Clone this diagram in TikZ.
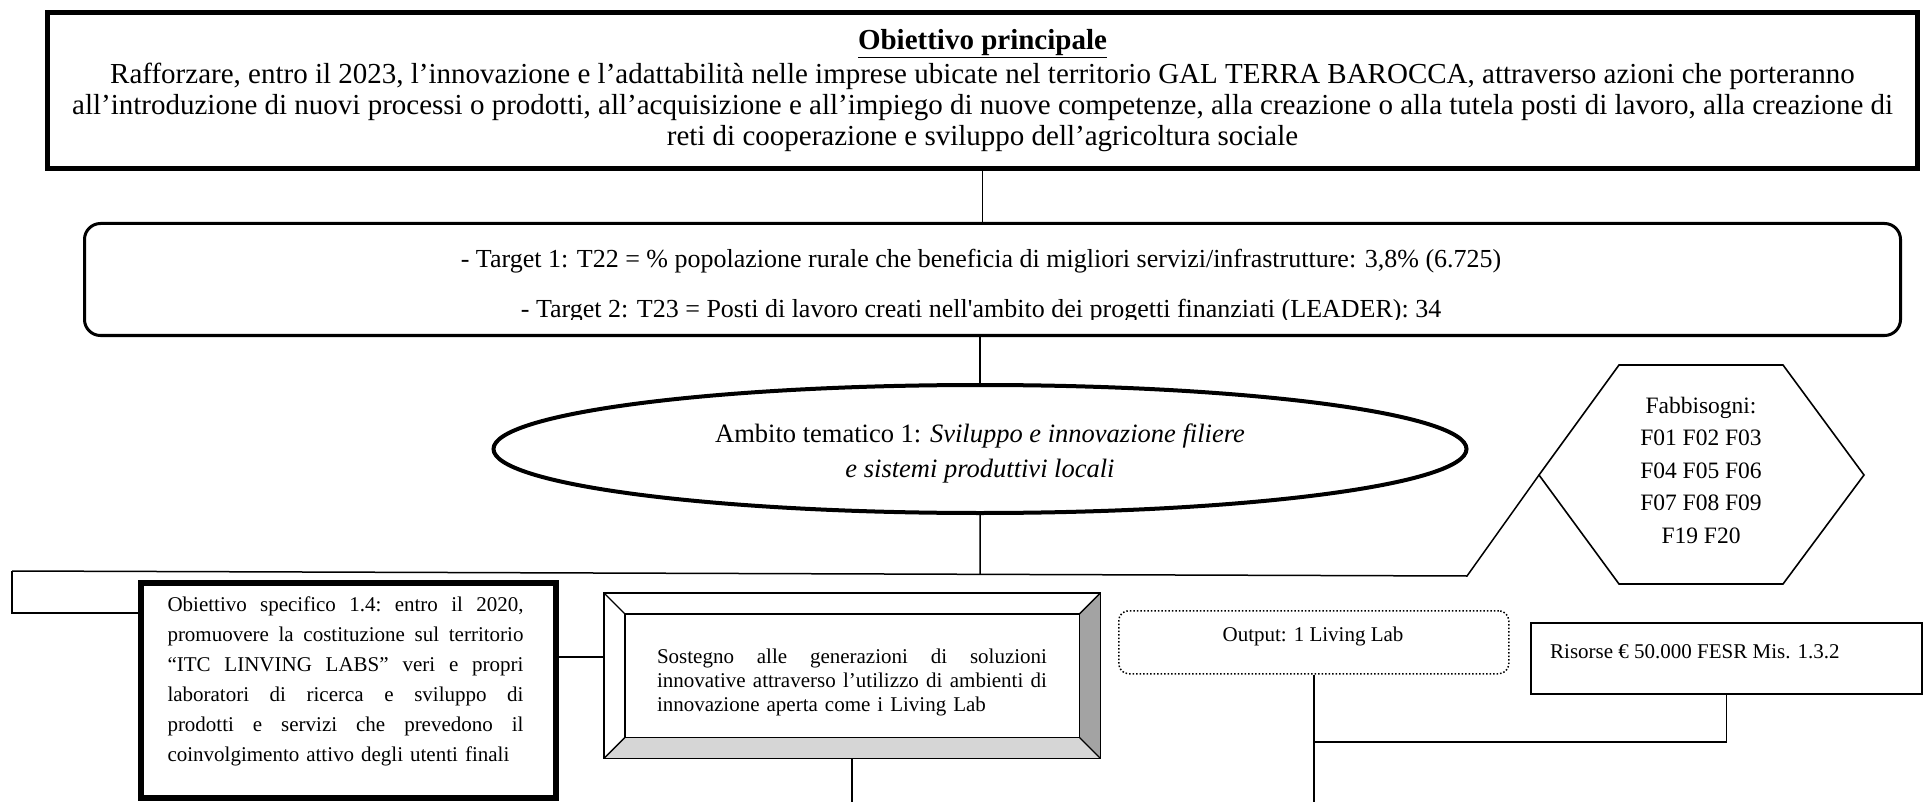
\documentclass[tikz,border=0pt]{standalone}
\usepackage{fontspec}
\setmainfont{Liberation Serif}
\usetikzlibrary{shapes.geometric,calc}
\newcommand\jline[2]{\makebox[#1][s]{\frenchspacing\spaceskip=0.25em plus 1fil\relax #2}}
\tikzset{
  conn/.style={line width=1.5pt},
  topfont/.style={font=\fontsize{29}{31}\selectfont},
  tgtfont/.style={font=\fontsize{26}{30}\selectfont},
  smallfont/.style={font=\fontsize{21}{30}\selectfont},
  plainbox/.style={draw, fill=white, inner sep=0pt, anchor=north west},
  txt/.style={inner sep=0pt},
}
\begin{document}
\begin{tikzpicture}[x=1pt,y=-1pt]
\useasboundingbox (0,0) rectangle (1925,802);
\coordinate (bot) at (0,802);
\coordinate (row) at (0,657);
\coordinate (row2) at (0,742);

% main objective
\node[plainbox, line width=5pt, minimum width=1870pt, minimum height=156pt, align=center, topfont] (top) at (45,10)
 {\underline{\textbf{Obiettivo principale}}\\[2.5pt]
  Rafforzare, entro il 2023, l’innovazione e l’adattabilità nelle imprese ubicate nel territorio GAL TERRA BAROCCA, attraverso azioni che porteranno\\
  all’introduzione di nuovi processi o prodotti, all’acquisizione e all’impiego di nuove competenze, alla creazione o alla tutela posti di lavoro, alla creazione di\\
  reti di cooperazione e sviluppo dell’agricoltura sociale};

% targets
\node[plainbox, rounded corners=16pt, line width=3pt, minimum width=1816pt, minimum height=112pt] (tgt) at (83,222) {};
\begin{scope}
\clip (83,222) rectangle (1899,320);
\node[txt, anchor=base, tgtfont] (t1) at (981,268)
 {- Target 1: T22 = \% popolazione rurale che beneficia di migliori servizi/infrastrutture: 3,8\% (6.725)};
\node[txt, anchor=base, tgtfont] (t2) at (981,317)
 {- Target 2: T23 = Posti di lavoro creati nell\textquotesingle ambito dei progetti finanziati (LEADER): 34};
\end{scope}

% ellipse
\node[ellipse, draw, fill=white, line width=4pt, minimum width=973pt, minimum height=128pt, inner sep=0pt] (ell) at (980,449) {};
\node[txt, align=center, font=\fontsize{26.5}{35}\selectfont] (elltxt) at (980,453)
 {Ambito tematico 1: \textit{Sviluppo e innovazione filiere}\\ \textit{e sistemi produttivi locali}};

% hexagon
\coordinate (h1) at (1619,365);
\coordinate (h2) at (1783,365);
\coordinate (h3) at (1864,475);
\coordinate (h4) at (1783,584);
\coordinate (h5) at (1619,584);
\coordinate (hexL) at (1539,475);
\draw[line width=1.6pt, fill=white] (hexL) -- (h1) -- (h2) -- (h3) -- (h4) -- (h5) -- cycle;
\node[txt, font=\fontsize{23.5}{32.5}\selectfont, align=center] (hex) at (1701,470)
 {Fabbisogni:\\F01 F02 F03\\F04 F05 F06\\F07 F08 F09\\F19 F20};

% specific objective
\node[plainbox, line width=5.5pt, minimum width=415pt, minimum height=215pt] (obj) at (138,580) {};
\node[txt, anchor=north, text width=356pt, align=left, smallfont] (objtxt) at (345.5,597)
 {\jline{356pt}{Obiettivo specifico 1.4: entro il 2020,}\\
  \jline{356pt}{promuovere la costituzione sul territorio}\\
  \jline{356pt}{“ITC LINVING LABS” veri e propri}\\
  \jline{356pt}{laboratori di ricerca e sviluppo di}\\
  \jline{356pt}{prodotti e servizi che prevedono il}\\
  coinvolgimento attivo degli utenti finali};

% bevel box
\node[inner sep=0pt, minimum width=496pt, minimum height=165pt, anchor=north west] (bev) at (604,593) {};
\coordinate (iNW) at ($(bev.north west)+(21,21)$);
\coordinate (iNE) at ($(bev.north east)+(-21,21)$);
\coordinate (iSW) at ($(bev.south west)+(21,-21)$);
\coordinate (iSE) at ($(bev.south east)+(-21,-21)$);
\fill[white] (bev.north west) rectangle (bev.south east);
\fill[black!16] (bev.south west) -- (bev.south east) -- (iSE) -- (iSW) -- cycle;
\fill[black!36] (bev.north east) -- (bev.south east) -- (iSE) -- (iNE) -- cycle;
\draw[line width=1.8pt] (bev.north west) rectangle (bev.south east);
\draw[line width=1.5pt] (iNW) rectangle (iSE);
\draw[line width=1.3pt] (bev.north west) -- (iNW) (bev.north east) -- (iNE) (bev.south west) -- (iSW) (bev.south east) -- (iSE);
\node[txt, text width=390pt, align=left, font=\fontsize{21}{24}\selectfont] (bevtxt) at (852,682)
 {\jline{390pt}{Sostegno alle generazioni di soluzioni}\\
  \jline{390pt}{innovative attraverso l’utilizzo di ambienti di}\\
  innovazione aperta come i Living Lab};

% output
\node[plainbox, dotted, rounded corners=10pt, line width=1.5pt, minimum width=390pt, minimum height=63pt] (out) at (1118,610) {};
\node[txt, font=\fontsize{21}{25}\selectfont] (outtxt) at (1313,636) {Output: 1 Living Lab};

% resources
\node[plainbox, line width=2pt, minimum width=391pt, minimum height=71pt] (ris) at (1530,622) {};
\node[txt, anchor=west, font=\fontsize{21}{25}\selectfont] (ristxt) at (1550,652) {Risorse € 50.000 FESR Mis. 1.3.2};

% connectors
\coordinate (jL) at (12,571);
\coordinate (jR) at (1467,576);
\coordinate (jM) at ($(jL)!0.6653!(jR)$);
\coordinate (jL2) at (12,613);
\draw[conn] (top.south) -- (top.south |- tgt.north);
\draw[conn] (ell.north |- tgt.south) -- (ell.north);
\draw[conn] (ell.south) -- (jM);
\draw[conn] (jL) -- (jR) -- (hexL);
\draw[conn] (jL) -- (jL2) -- (jL2 -| obj.west);
\draw[conn] (obj.east |- row) -- (bev.west |- row);
\draw[conn] (bev.south) -- (bev.south |- bot);
\draw[conn] (out.south) -- (out.south |- bot);
\draw[conn] (out.south |- row2) -- (ris.south |- row2) -- (ris.south);
\end{tikzpicture}
\end{document}
